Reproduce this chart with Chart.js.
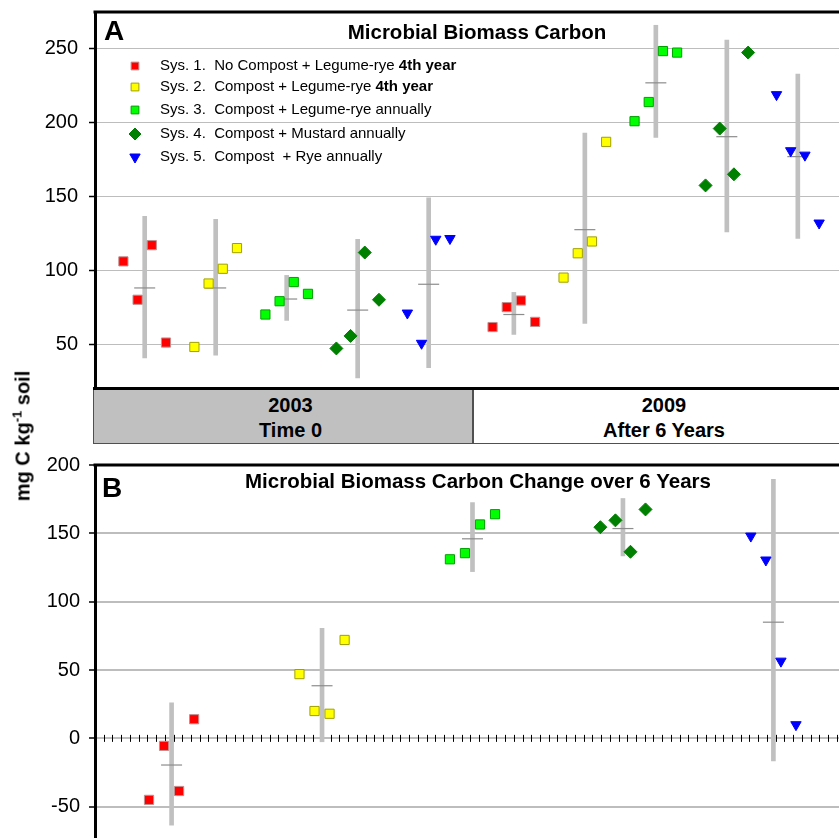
<!DOCTYPE html>
<html>
<head>
<meta charset="utf-8">
<script src="https://cdn.jsdelivr.net/npm/chart.js@4.4.1/dist/chart.umd.min.js"></script>
<style>
body { margin:0; background:#fff; }
#page { position:relative; width:839px; height:838px; overflow:hidden; font-family:'Liberation Sans', Arial, sans-serif; }
#wrapA { position:absolute; left:0; top:0; width:839px; height:388px; }
#wrapB { position:absolute; left:0; top:450px; width:839px; height:388px; }
#bandLine { position:absolute; left:93px; top:387px; width:746px; height:3px; background:#000; }
.band { position:absolute; top:390px; height:50px; padding-top:3px; border:1px solid #505050; border-top:none; text-align:center; font-weight:bold; font-size:20px; line-height:25px; color:#000; }
#band1 { left:93px; width:363px; padding-left:15px; background:#c0c0c0; }
#band2 { left:473px; width:380px; background:#fff; }
#ylab { position:absolute; left:23px; top:436px; transform:translate(-50%,-50%) rotate(-90deg); white-space:nowrap; font-weight:bold; font-size:20px; color:#000; }
#ylab sup { font-size:13px; vertical-align:baseline; position:relative; top:-8px; }
</style>
</head>
<body>
<div id="page">
  <div id="wrapA"><canvas id="chartA"></canvas></div>
  <div id="bandLine"></div>
  <div class="band" id="band1">2003<br>Time 0</div>
  <div class="band" id="band2">2009<br>After 6 Years</div>
  <div id="wrapB"><canvas id="chartB"></canvas></div>
  <div id="ylab">mg C kg<sup>-1</sup> soil</div>
</div>
<script>
// systems (legend)
var sysNames = ['Sys. 1.  No Compost + Legume-rye ', 'Sys. 2.  Compost + Legume-rye ', 'Sys. 3.  Compost + Legume-rye annually', 'Sys. 4.  Compost + Mustard annually', 'Sys. 5.  Compost  + Rye annually'];
var sysBold = ['4th year', '4th year', '', '', ''];
var sysColors = ['#ff0000', '#ffff00', '#00ff00', '#008000', '#0000ff'];
var sysBorders = ['#c09090', '#a0a000', '#00a000', '#008000', '#0000ff'];
var sysShapes = ['rect', 'rect', 'rect', 'rectRot', 'triangle'];

// panel A: microbial biomass carbon, 4 plots per system
var mbc2003 = [[106, 80, 117, 51], [48, 91, 101, 115], [70, 79, 92, 84], [47, 55.5, 112, 80], [71, 50.5, 121, 121.5]];
var mbc2009 = [[61.5, 75, 79.5, 65], [95, 111.5, 119.5, 187], [201, 214, 248.5, 247.5], [157.5, 196, 165, 247.5], [219, 181, 178, 132]];
// grey interval bars: [low, mean, high]
var bar2003 = [[40.5, 88, 136.5], [42.5, 88, 134.5], [66, 80.5, 96.5], [27, 73, 121], [34, 90.5, 149]];
var bar2009 = [[56.5, 70, 85], [64, 127.5, 193], [190, 227, 266], [126, 190.5, 256], [121.5, 177, 233]];

// panel B: change over 6 years
var mbcChange = [[-45, -5.5, -38.5, 14], [47, 20, 18, 72], [131, 135.5, 156.5, 164], [154.5, 159.5, 136.5, 167.5], [148, 130.5, 56.5, 10]];
var barChange = [[-63.5, -19.5, 26], [-2.5, 38.5, 80.5], [122, 146, 172.5], [133.5, 153.5, 175.5], [-16.5, 85, 189.5]];

// first slot of each group on the x axis
var slotA2003 = [2, 7, 12, 17, 22];
var slotA2009 = [28, 33, 38, 43, 48];
var slotB = [4, 14, 24, 34, 44];

var ticksA = [50, 100, 150, 200, 250];
var ticksB = [-50, 0, 50, 100, 150, 200];

Chart.defaults.font.family = "'Liberation Sans', Arial, sans-serif";
Chart.defaults.color = '#000';

function pts(vals, start){
    return vals.map(function(v, i){ return {x: start + i, y: v}; });
}

function pointRadius(shape){
    if(shape == 'triangle') return 6;
    return 6.5;
}

function build_datasets(groups){
    // groups: list of {slots, vals, bars}
    var datasets = [];
    for(var s = 0; s < 5; s++){
        var data = [];
        groups.forEach(function(g){ data = data.concat(pts(g.vals[s], g.slots[s])); });
        datasets.push({
            type: 'scatter',
            data: data,
            pointStyle: sysShapes[s],
            rotation: sysShapes[s] == 'triangle' ? 180 : 0,
            pointRadius: pointRadius(sysShapes[s]),
            backgroundColor: sysColors[s],
            borderColor: sysBorders[s],
            borderWidth: 1,
            order: 1
        });
    }
    var bars = [], means = [];
    groups.forEach(function(g){
        for(var s = 0; s < 5; s++){
            var b = g.bars[s];
            bars.push({x: g.slots[s] + 1.5, y: [b[0], b[2]]});
            means.push({x: g.slots[s] + 1.5, y: b[1]});
        }
    });
    datasets.push({
        type: 'scatter',
        data: means,
        pointStyle: 'line',
        pointRadius: 10.5,
        borderColor: '#8c8c8c',
        borderWidth: 1.2,
        order: 2
    });
    datasets.push({
        type: 'bar',
        data: bars,
        backgroundColor: '#c0c0c0',
        borderWidth: 0,
        barThickness: 4,
        order: 3
    });
    return datasets;
}

var frameTop = {
    id: 'frameTop',
    afterDraw: function(chart){
        var ctx = chart.ctx, a = chart.chartArea;
        ctx.save();
        ctx.strokeStyle = '#000';
        ctx.lineWidth = 3;
        ctx.beginPath();
        ctx.moveTo(a.left - 1.5, a.top);
        ctx.lineTo(a.right, a.top);
        ctx.stroke();
        ctx.restore();
    }
};

var panelText = {
    id: 'panelText',
    afterDraw: function(chart, args, opts){
        var ctx = chart.ctx;
        ctx.save();
        ctx.fillStyle = '#000';
        ctx.textBaseline = 'alphabetic';
        ctx.textAlign = 'left';
        ctx.font = "bold 28px 'Liberation Sans', Arial";
        ctx.fillText(opts.letter, opts.letterX, opts.letterY);
        ctx.textAlign = 'center';
        ctx.font = "bold 20.5px 'Liberation Sans', Arial";
        ctx.fillText(opts.title, opts.titleX, opts.titleY);
        ctx.restore();
    }
};

var sysLegend = {
    id: 'sysLegend',
    afterDraw: function(chart, args, opts){
        var ctx = chart.ctx;
        ctx.save();
        for(var i = 0; i < sysNames.length; i++){
            var y = opts.rows[i];
            ctx.fillStyle = sysColors[i];
            ctx.strokeStyle = sysBorders[i];
            ctx.lineWidth = 1;
            Chart.helpers.drawPoint(ctx, {
                pointStyle: sysShapes[i],
                radius: sysShapes[i] == 'rect' ? 5.5 : 6,
                rotation: sysShapes[i] == 'triangle' ? 180 : 0,
                borderWidth: 1
            }, opts.markX, y);
            ctx.fillStyle = '#000';
            ctx.textBaseline = 'middle';
            ctx.textAlign = 'left';
            ctx.font = "15px 'Liberation Sans', Arial";
            ctx.fillText(sysNames[i], opts.textX, y);
            if(sysBold[i]){
                var w = ctx.measureText(sysNames[i]).width;
                ctx.font = "bold 15px 'Liberation Sans', Arial";
                ctx.fillText(sysBold[i], opts.textX + w, y);
            }
        }
        ctx.restore();
    }
};

var zeroTicks = {
    id: 'zeroTicks',
    beforeDatasetsDraw: function(chart, args, opts){
        var ctx = chart.ctx, xs = chart.scales.x, ys = chart.scales.y;
        var y0 = ys.getPixelForValue(0);
        ctx.save();
        ctx.strokeStyle = '#000';
        ctx.lineWidth = 1;
        ctx.beginPath();
        for(var v = xs.min + opts.step; v < xs.max; v += opts.step){
            var px = Math.round(xs.getPixelForValue(v)) + 0.5;
            ctx.moveTo(px, y0 - 3.5);
            ctx.lineTo(px, y0 + 3.5);
        }
        ctx.stroke();
        ctx.restore();
    }
};

function y_scale(min, max, ticks, padding, gridWidth){
    return {
        min: min,
        max: max,
        afterFit: function(s){
            s.width = 95;
            s.paddingTop = 0;
            s.paddingBottom = 0;
        },
        afterBuildTicks: function(s){ s.ticks = ticks.map(function(v){ return {value: v}; }); },
        ticks: { color: '#000', font: { size: 20 }, padding: padding },
        grid: { color: '#bdbdbd', lineWidth: gridWidth, tickColor: '#000', tickLength: 6, tickWidth: 1.5 },
        border: { color: '#000', width: 3 }
    };
}

var chartA = new Chart(document.getElementById('chartA'), {
    type: 'scatter',
    data: {
        datasets: build_datasets([
            {slots: slotA2003, vals: mbc2003, bars: bar2003},
            {slots: slotA2009, vals: mbc2009, bars: bar2009}
        ])
    },
    options: {
        responsive: true,
        maintainAspectRatio: false,
        animation: false,
        devicePixelRatio: 1,
        layout: { autoPadding: false, padding: { top: 12, left: 0, right: 0, bottom: 0 } },
        plugins: {
            legend: { display: false },
            tooltip: { enabled: false },
            panelText: { letter: 'A', letterX: 104, letterY: 40, title: 'Microbial Biomass Carbon', titleX: 477, titleY: 39 },
            sysLegend: { markX: 135, textX: 160, rows: [66, 87, 110, 134, 157] }
        },
        scales: {
            x: { type: 'linear', min: 0, max: 52.4, display: false, offset: false, grid: { offset: false } },
            y: y_scale(20.2, 275, ticksA, 11, 1)
        }
    },
    plugins: [frameTop, panelText, sysLegend]
});

var chartB = new Chart(document.getElementById('chartB'), {
    type: 'scatter',
    data: {
        datasets: build_datasets([
            {slots: slotB, vals: mbcChange, bars: barChange}
        ])
    },
    options: {
        responsive: true,
        maintainAspectRatio: false,
        animation: false,
        devicePixelRatio: 1,
        layout: { autoPadding: false, padding: { top: 15, left: 0, right: 0, bottom: 0 } },
        plugins: {
            legend: { display: false },
            tooltip: { enabled: false },
            panelText: { letter: 'B', letterX: 102, letterY: 47, title: 'Microbial Biomass Carbon Change over 6 Years', titleX: 478, titleY: 38 },
            zeroTicks: { step: 0.58 }
        },
        scales: {
            x: { type: 'linear', min: 0.41, max: 49.86, display: false, offset: false, grid: { offset: false } },
            y: y_scale(-72.9, 200, ticksB, 9, 2)
        }
    },
    plugins: [frameTop, panelText, zeroTicks]
});
</script>
</body>
</html>
